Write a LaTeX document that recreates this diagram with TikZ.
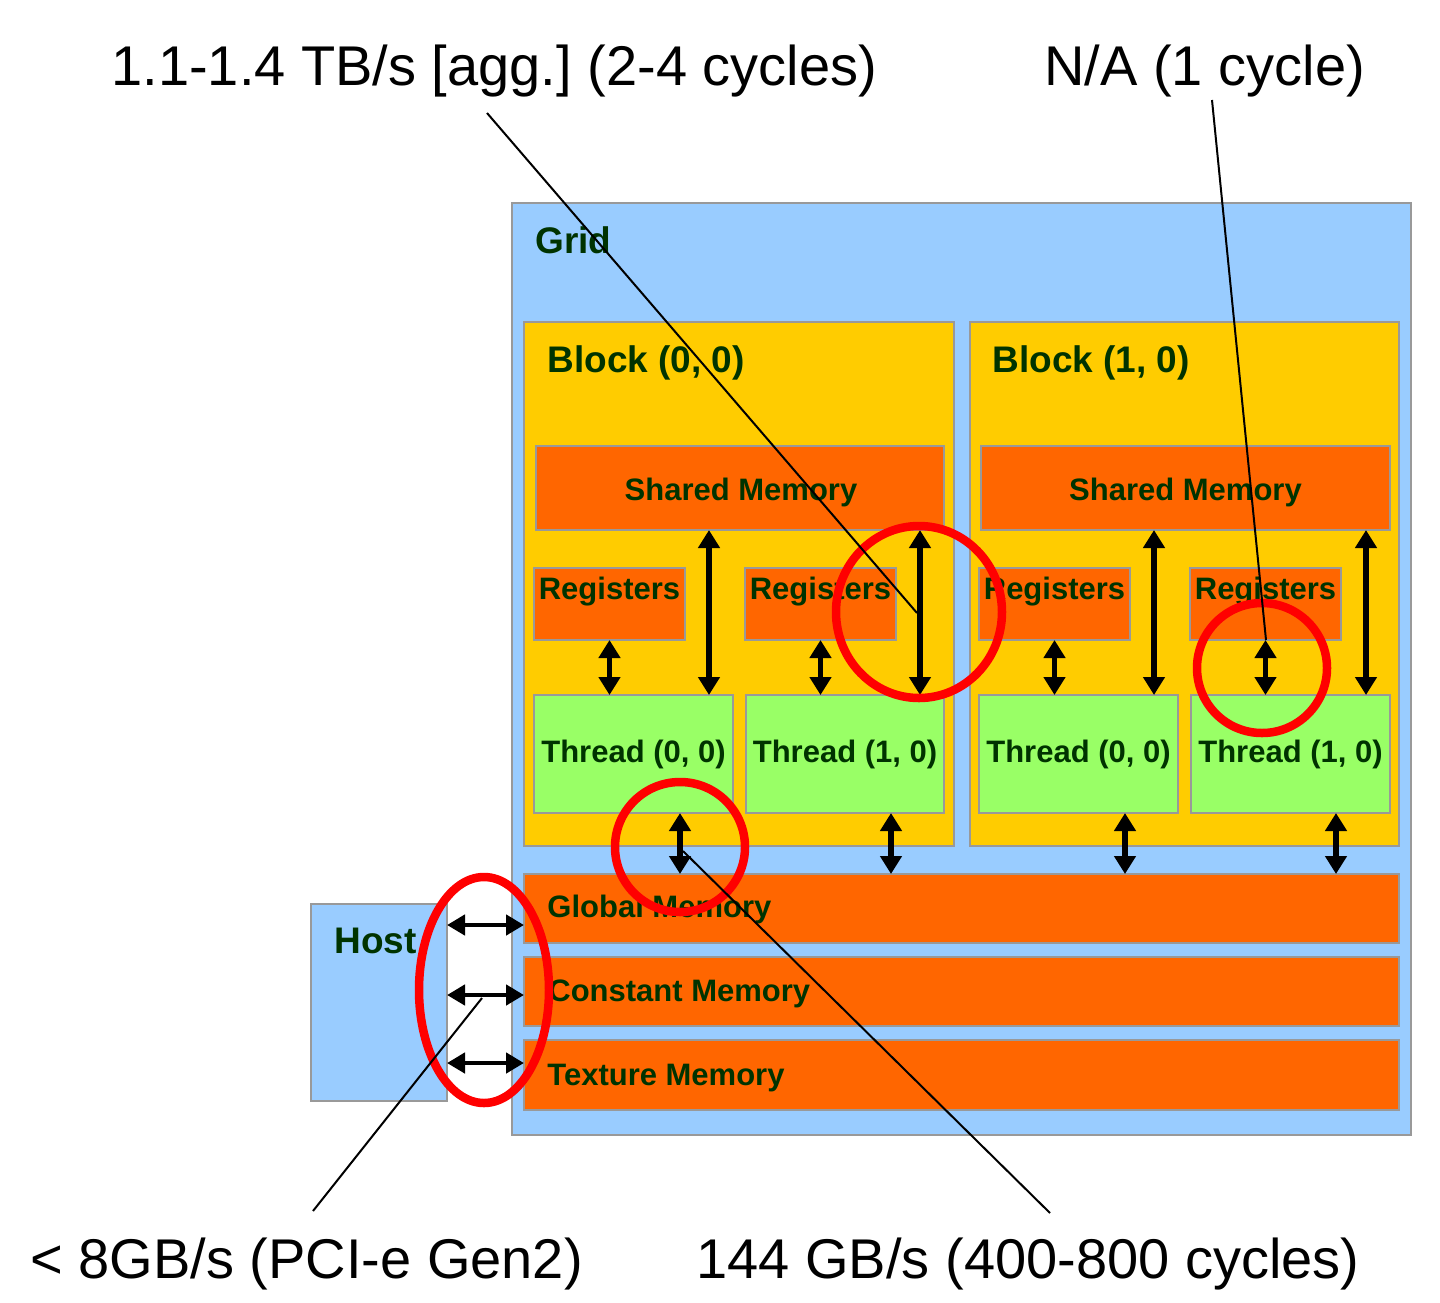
\documentclass[tikz,border=0pt]{standalone}
\usepackage{fontspec}
\setmainfont{Liberation Sans}
\usetikzlibrary{arrows.meta,shapes.geometric}
\definecolor{gridblue}{HTML}{99CCFF}
\definecolor{blockyel}{HTML}{FFCC00}
\definecolor{memorg}{HTML}{FF6600}
\definecolor{thrgreen}{HTML}{99FF66}
\definecolor{edgegray}{HTML}{999999}
\definecolor{txtgreen}{HTML}{003300}
\definecolor{ringred}{HTML}{FF0000}
\frenchspacing
\begin{document}
\begin{tikzpicture}[x=0.5pt,y=-0.5pt,
  area/.style={draw=edgegray, line width=1.25pt, inner sep=0pt, outer sep=0pt, anchor=north west},
  gridbox/.style={area, fill=gridblue},
  blockbox/.style={area, fill=blockyel},
  membox/.style={area, fill=memorg},
  thrbox/.style={area, fill=thrgreen},
  bigtitle/.style={font=\bfseries\fontsize{18.5}{20}\selectfont, text=txtgreen, inner sep=0pt, anchor=base west},
  boxtext/.style={font=\bfseries\fontsize{15.5}{17}\selectfont, text=txtgreen, inner sep=0pt, anchor=base},
  boxtextw/.style={boxtext, anchor=base west},
  callout/.style={font=\fontsize{28}{30}\selectfont, inner sep=0pt, anchor=base west},
  dbl/.style={line width=2.75pt, {Triangle[width=10.5pt,length=9pt]}-{Triangle[width=10.5pt,length=9pt]}},
  hdbl/.style={line width=2.25pt, {Triangle[width=10pt,length=9pt]}-{Triangle[width=10pt,length=9pt]}},
  ring/.style={draw=ringred, line width=4.25pt, ellipse, inner sep=0pt, outer sep=0pt},
  pointer/.style={line width=1pt, black}
]
\useasboundingbox (0,0) rectangle (1440,1302);

% host and grid
\node[gridbox, minimum width=68pt, minimum height=98.5pt] (host) at (311,904) {};
\node[gridbox, minimum width=449.5pt, minimum height=466pt] (grid) at (512,203) {};

% blocks
\node[blockbox, minimum width=215pt, minimum height=262pt] (b0) at (524,322) {};
\node[blockbox, minimum width=214.5pt, minimum height=262pt] (b1) at (970,322) {};

% shared memories
\node[membox, minimum width=204pt, minimum height=42pt] (sm0) at (536,446) {};
\node[membox, minimum width=204.5pt, minimum height=42pt] (sm1) at (981,446) {};

% registers
\node[membox, minimum width=75.5pt, minimum height=36pt] (r00) at (534,568) {};
\node[membox, minimum width=75.5pt, minimum height=36pt] (r01) at (745,568) {};
\node[membox, minimum width=75.5pt, minimum height=36pt] (r10) at (979,568) {};
\node[membox, minimum width=75.5pt, minimum height=36pt] (r11) at (1190,568) {};

% threads
\node[thrbox, minimum width=99.5pt, minimum height=59pt] (t00) at (534,695) {};
\node[thrbox, minimum width=99pt, minimum height=59pt] (t01) at (746,695) {};
\node[thrbox, minimum width=99.5pt, minimum height=59pt] (t10) at (979,695) {};
\node[thrbox, minimum width=99.5pt, minimum height=59pt] (t11) at (1191,695) {};

% global memories
\node[membox, minimum width=437.5pt, minimum height=34.5pt] (gm) at (524,874) {};
\node[membox, minimum width=437.5pt, minimum height=34.5pt] (cm) at (524,957) {};
\node[membox, minimum width=437.5pt, minimum height=35pt] (tm) at (524,1040) {};

% texts
\node[bigtitle] (gridlbl) at (535,253) {Grid};
\node[bigtitle] (b0lbl) at (547,372) {Block (0, 0)};
\node[bigtitle] (b1lbl) at (992,372) {Block (1, 0)};
\node[bigtitle] (hostlbl) at (334,953) {Host};
\node[boxtext] (sm0lbl) at (741,500) {Shared Memory};
\node[boxtext] (sm1lbl) at (1185.5,500) {Shared Memory};
\node[boxtext] (r00lbl) at (609.5,599) {Registers};
\node[boxtext] (r01lbl) at (820.5,599) {Registers};
\node[boxtext] (r10lbl) at (1054.5,599) {Registers};
\node[boxtext] (r11lbl) at (1265.5,599) {Registers};
\node[boxtext] (t00lbl) at (633.5,762) {Thread (0, 0)};
\node[boxtext] (t01lbl) at (845,762) {Thread (1, 0)};
\node[boxtext] (t10lbl) at (1078.5,762) {Thread (0, 0)};
\node[boxtext] (t11lbl) at (1290.5,762) {Thread (1, 0)};
\node[boxtextw] (gmlbl) at (547,917) {Global Memory};
\node[boxtextw] (cmlbl) at (548,1001) {Constant Memory};
\node[boxtextw] (tmlbl) at (547,1085) {Texture Memory};

% register <-> thread arrows
\draw[dbl] (r00.south) -- (r00.south |- t00.north);
\draw[dbl] (r01.south) -- (r01.south |- t01.north);
\draw[dbl] (r10.south) -- (r10.south |- t10.north);
\draw[dbl] (r11.south) -- (r11.south |- t11.north);

% shared <-> thread arrows
\coordinate (sA) at (709,0);
\coordinate (sB) at (920,0);
\coordinate (sC) at (1154,0);
\coordinate (sD) at (1366,0);
\draw[dbl] (sA |- sm0.south) -- (sA |- t00.north);
\draw[dbl] (sB |- sm0.south) -- (sB |- t01.north);
\draw[dbl] (sC |- sm1.south) -- (sC |- t10.north);
\draw[dbl] (sD |- sm1.south) -- (sD |- t11.north);

% thread <-> global arrows
\coordinate (gA) at (680,0);
\coordinate (gB) at (891,0);
\coordinate (gC) at (1125,0);
\coordinate (gD) at (1336,0);
\draw[dbl] (gA |- t00.south) -- (gA |- gm.north);
\draw[dbl] (gB |- t01.south) -- (gB |- gm.north);
\draw[dbl] (gC |- t10.south) -- (gC |- gm.north);
\draw[dbl] (gD |- t11.south) -- (gD |- gm.north);

% host <-> memories
\coordinate (hA) at (0,925);
\coordinate (hB) at (0,995);
\coordinate (hC) at (0,1063);
\draw[hdbl] (hA -| host.east) -- (hA -| gm.west);
\draw[hdbl] (hB -| host.east) -- (hB -| cm.west);
\draw[hdbl] (hC -| host.east) -- (hC -| tm.west);

% red rings
\node[ring, minimum width=83pt, minimum height=86pt] (ring1) at (919,612) {};
\node[ring, minimum width=65pt, minimum height=65pt] (ring2) at (1262,668) {};
\node[ring, minimum width=65pt, minimum height=65pt] (ring3) at (680,847) {};
\node[ring, minimum width=65pt, minimum height=113pt] (ring4) at (484,990) {};

% callouts
\node[callout] (lab1) at (111,85) {1.1-1.4 TB/s [agg.] (2-4 cycles)};
\node[callout] (lab2) at (1044,85) {N/A (1 cycle)};
\node[callout] (lab3) at (30,1278) {< 8GB/s (PCI-e Gen2)};
\node[callout] (lab4) at (696,1278) {144 GB/s (400-800 cycles)};

\coordinate (p1s) at (487,113);
\coordinate (p1e) at (917,613);
\coordinate (p2s) at (1212,100);
\coordinate (p2e) at (1266,640);
\coordinate (p3s) at (313,1211);
\coordinate (p3e) at (482,998);
\coordinate (p4s) at (1050,1213);
\coordinate (p4e) at (683,851);
\draw[pointer] (p1s) -- (p1e);
\draw[pointer] (p2s) -- (p2e);
\draw[pointer] (p3s) -- (p3e);
\draw[pointer] (p4s) -- (p4e);
\end{tikzpicture}
\end{document}
